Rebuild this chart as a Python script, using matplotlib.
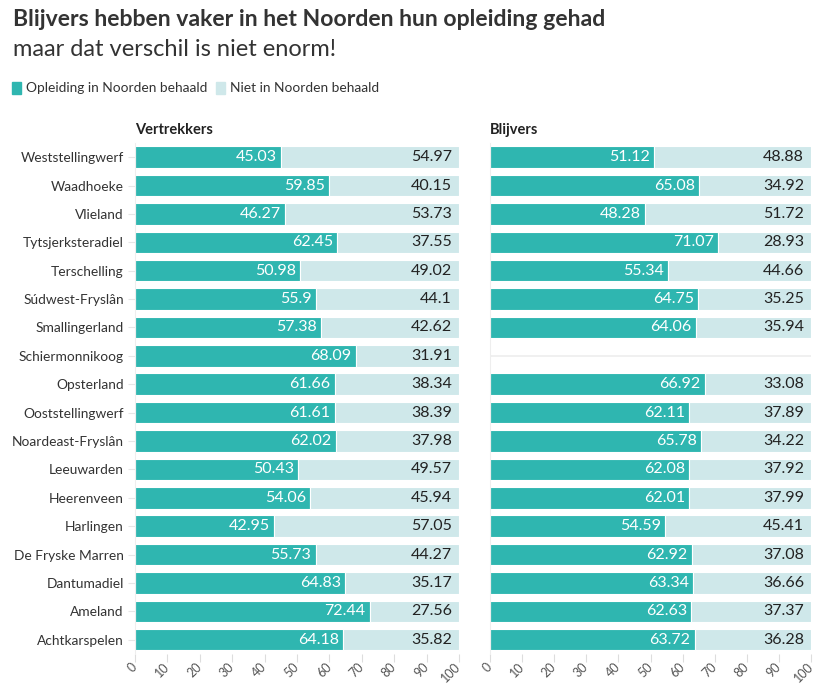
import numpy as np
import matplotlib.pyplot as plt

# ==========================================================
# DATA
# ==========================================================

gemeenten = [
    "Weststellingwerf", "Waadhoeke", "Vlieland", "Tytsjerksteradiel",
    "Terschelling", "Súdwest-Fryslân", "Smallingerland", "Schiermonnikoog",
    "Opsterland", "Ooststellingwerf", "Noardeast-Fryslân", "Leeuwarden",
    "Heerenveen", "Harlingen", "De Fryske Marren", "Dantumadiel",
    "Ameland", "Achtkarspelen",
]

vertrek_noord = [45.03, 59.85, 46.27, 62.45, 50.98, 55.9, 57.38, 68.09,
                 61.66, 61.61, 62.02, 50.43, 54.06, 42.95, 55.73, 64.83,
                 72.44, 64.18]
vertrek_niet = [54.97, 40.15, 53.73, 37.55, 49.02, 44.1, 42.62, 31.91,
                38.34, 38.39, 37.98, 49.57, 45.94, 57.05, 44.27, 35.17,
                27.56, 35.82]

# Schiermonnikoog has no value for blijvers
blijf_noord = [51.12, 65.08, 48.28, 71.07, 55.34, 64.75, 64.06, None,
               66.92, 62.11, 65.78, 62.08, 62.01, 54.59, 62.92, 63.34,
               62.63, 63.72]
blijf_niet = [48.88, 34.92, 51.72, 28.93, 44.66, 35.25, 35.94, None,
              33.08, 37.89, 34.22, 37.92, 37.99, 45.41, 37.08, 36.66,
              37.37, 36.28]

TEAL = "#2fb6b0"
LIGHT = "#cfe8ea"

plt.rcParams["font.family"] = ["Lato", "DejaVu Sans"]

fig = plt.figure(figsize=(8.19, 6.84), dpi=100)

ax1 = fig.add_axes([0.1648, 0.044, 0.3956, 0.747])
ax2 = fig.add_axes([0.5983, 0.044, 0.392, 0.747])

y = np.arange(len(gemeenten))


def draw_panel(ax, noord, niet, title, show_labels):

    for i in y:
        ax.axhline(i, color="#eeeeee", lw=1.2, zorder=0)

        if noord[i] is None:
            continue

        ax.barh(i, noord[i], height=0.76, color=TEAL,
                edgecolor="white", linewidth=0.8, zorder=2)
        ax.barh(i, niet[i], left=noord[i], height=0.76, color=LIGHT,
                edgecolor="white", linewidth=0.8, zorder=2)

        ax.annotate(f"{noord[i]:g}", (noord[i], i), xytext=(-3, 0),
                    textcoords="offset points", ha="right", va="center",
                    color="white", fontsize=11.5, zorder=3)
        ax.annotate(f"{niet[i]:g}", (100, i), xytext=(-5, 0),
                    textcoords="offset points", ha="right", va="center",
                    color="#222222", fontsize=11.5, zorder=3)

    ax.set_xlim(0, 100)
    ax.set_ylim(len(gemeenten) - 0.5, -0.5)
    ax.set_xticks(range(0, 101, 10))
    ax.set_xticklabels([str(v) for v in range(0, 101, 10)],
                       rotation=45, ha="right", va="center",
                       rotation_mode="anchor", color="#555555",
                       fontsize=9)
    ax.tick_params(axis="x", length=6, color="#dddddd", pad=2)

    ax.set_yticks(y)
    if show_labels:
        ax.set_yticklabels(gemeenten, fontsize=9.9, color="#333333")
        ax.tick_params(axis="y", length=5, color="#e6e6e6", pad=3)
    else:
        ax.set_yticklabels([])
        ax.tick_params(axis="y", length=0)

    for side in ["top", "right", "bottom"]:
        ax.spines[side].set_visible(False)
    ax.spines["left"].set_color("#eeeeee")

    ax.text(0, 1.012, title, transform=ax.transAxes, ha="left",
            va="bottom", fontsize=10.5, fontweight="bold", color="#222222")


draw_panel(ax1, vertrek_noord, vertrek_niet, "Vertrekkers", True)
draw_panel(ax2, blijf_noord, blijf_niet, "Blijvers", False)

# ==========================================================
# TITLES AND LEGEND
# ==========================================================

fig.text(0.016, 0.972, "Blijvers hebben vaker in het Noorden hun opleiding gehad",
         fontsize=16.6, fontweight="bold", color="#333333", va="center")
fig.text(0.016, 0.927, "maar dat verschil is niet enorm!",
         fontsize=17, color="#333333", va="center")

fig.patches.append(plt.Rectangle((0.015, 0.862), 0.011, 0.018,
                                 transform=fig.transFigure,
                                 color=TEAL, figure=fig))
fig.text(0.032, 0.871, "Opleiding in Noorden behaald", fontsize=9.9,
         color="#333333", va="center")
fig.patches.append(plt.Rectangle((0.264, 0.862), 0.011, 0.018,
                                 transform=fig.transFigure,
                                 color=LIGHT, figure=fig))
fig.text(0.281, 0.871, "Niet in Noorden behaald", fontsize=9.9,
         color="#333333", va="center")

plt.savefig("out.png", dpi=100)
